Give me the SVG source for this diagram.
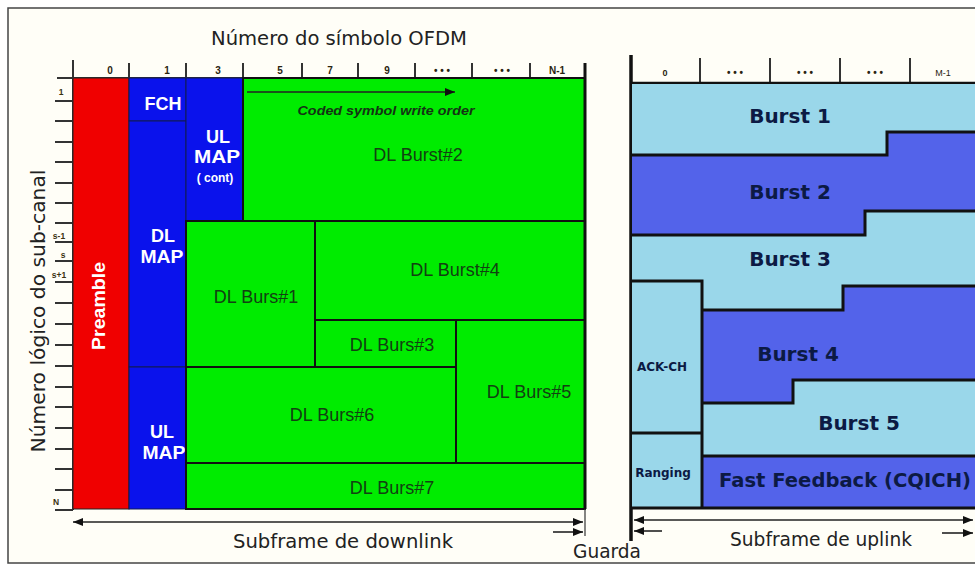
<svg xmlns="http://www.w3.org/2000/svg" width="975" height="566" viewBox="0 0 975 566">
<defs>
<style>
.t{font-family:"DejaVu Sans","Liberation Sans",sans-serif;font-size:19.5px;fill:#222}
.dl{font-family:"Liberation Sans",Arial,sans-serif;font-size:18px;fill:#124012;text-anchor:middle}
.wb{font-family:"Liberation Sans",Arial,sans-serif;font-weight:bold;font-size:18px;fill:#fff;text-anchor:middle}
.ub{font-family:"DejaVu Sans",sans-serif;font-weight:bold;font-size:20px;fill:#0c1a44;text-anchor:middle}
.us{font-family:"DejaVu Sans",sans-serif;font-weight:bold;font-size:12px;fill:#0c1a44;text-anchor:middle}
.hd{font-family:"Liberation Sans",Arial,sans-serif;font-weight:bold;font-size:10px;fill:#2a2410;text-anchor:middle}
.ax{font-family:"Liberation Sans",Arial,sans-serif;font-weight:bold;font-size:8.5px;fill:#3a3210;text-anchor:middle}
.g{fill:#00ec00;stroke:#111;stroke-width:2}
.b{fill:#0a12ec;stroke:#111a55;stroke-width:1}
.lb{fill:#9ad7ea}
.rb{fill:#5363ea}
.edge{fill:none;stroke:#111;stroke-width:3}
.tick{stroke:#333;stroke-width:2;fill:none}
.arr{stroke:#222;stroke-width:1.6;fill:none}
</style>
<marker id="ah" viewBox="0 0 10 8" refX="10" refY="4" markerWidth="11" markerHeight="8" markerUnits="userSpaceOnUse" orient="auto-start-reverse"><path d="M0,0 L10,4 L0,8 z" fill="#111"/></marker>
</defs>
<rect x="0" y="0" width="975" height="566" fill="#fff"/>
<rect x="8" y="8" width="980" height="555" fill="#fffef7" stroke="#444" stroke-width="1.5"/>

<text class="t" x="211" y="45" textLength="256" lengthAdjust="spacingAndGlyphs">Número do símbolo OFDM</text>
<text class="t" transform="translate(45,311) rotate(-90)" text-anchor="middle" textLength="283" lengthAdjust="spacingAndGlyphs">Número lógico do sub-canal</text>

<g id="dl-axes">
<path class="tick" d="M73,60 V510 M57,78 H585 M129,63 V78 M186,63 V78 M243,63 V78 M302,63 V78 M358,63 V78 M415,63 V78 M472,63 V78 M530,63 V78"/>
<path class="tick" d="M55,101H73 M55,121H73 M55,142H73 M55,162H73 M55,183H73 M55,203H73 M55,223H73 M55,242H73 M55,261H73 M55,282H73 M55,303H73 M55,324H73 M55,345H73 M55,366H73 M55,387H73 M55,407H73 M55,428H73 M55,449H73 M55,469H73 M55,490H73 M55,510H73"/>
<text class="hd" x="110" y="74">0</text>
<text class="hd" x="167" y="74">1</text>
<text class="hd" x="218" y="74">3</text>
<text class="hd" x="280" y="74">5</text>
<text class="hd" x="330" y="74">7</text>
<text class="hd" x="387" y="74">9</text>
<text class="hd" x="442" y="74">• • •</text>
<text class="hd" x="502" y="74">• • •</text>
<text class="hd" x="557" y="74">N-1</text>
<text class="ax" x="61" y="95">1</text>
<text class="ax" x="59" y="239">s-1</text>
<text class="ax" x="63" y="258">s</text>
<text class="ax" x="59" y="278">s+1</text>
<text class="ax" x="56" y="505">N</text>
</g>

<g id="preamble">
<rect x="73" y="78" width="56" height="431" fill="#f00000" stroke="#222" stroke-width="1"/>
<text class="wb" transform="translate(105,306) rotate(-90)" textLength="88" lengthAdjust="spacingAndGlyphs">Preamble</text>
</g>
<g id="fch">
<rect class="b" x="129" y="78" width="57" height="43"/>
<text class="wb" x="163" y="110">FCH</text>
</g>
<g id="dl-map">
<rect class="b" x="129" y="121" width="57" height="246"/>
<text class="wb" x="163" y="242">DL</text>
<text class="wb" x="162" y="263" textLength="43" lengthAdjust="spacingAndGlyphs">MAP</text>
</g>
<g id="ul-map">
<rect class="b" x="129" y="367" width="57" height="142"/>
<text class="wb" x="162" y="438">UL</text>
<text class="wb" x="164" y="459" textLength="43" lengthAdjust="spacingAndGlyphs">MAP</text>
</g>
<g id="ul-map-cont">
<rect class="b" x="186" y="78" width="57" height="143"/>
<text class="wb" x="218" y="143">UL</text>
<text class="wb" x="217" y="163" textLength="46" lengthAdjust="spacingAndGlyphs">MAP</text>
<text class="wb" x="215" y="182" style="font-size:12px">( cont)</text>
</g>
<g id="dl-burst2">
<rect class="g" x="243" y="78" width="342" height="143"/>
<text x="386" y="115" text-anchor="middle" style="font-family:'Liberation Sans',Arial,sans-serif;font-size:12px;font-weight:bold;font-style:italic;fill:#143214" textLength="177" lengthAdjust="spacingAndGlyphs">Coded symbol write order</text>
<text class="dl" x="418" y="161">DL Burst#2</text>
</g>
<g id="dl-burst1">
<rect class="g" x="186" y="221" width="129" height="146"/>
<text class="dl" x="256" y="303">DL Burs#1</text>
</g>
<g id="dl-burst4">
<rect class="g" x="315" y="221" width="270" height="99"/>
<text class="dl" x="455" y="276">DL Burst#4</text>
</g>
<g id="dl-burst3">
<rect class="g" x="315" y="320" width="141" height="47"/>
<text class="dl" x="392" y="351">DL Burs#3</text>
</g>
<g id="dl-burst5">
<rect class="g" x="456" y="320" width="129" height="143"/>
<text class="dl" x="529" y="398">DL Burs#5</text>
</g>
<g id="dl-burst6">
<rect class="g" x="186" y="367" width="270" height="96"/>
<text class="dl" x="332" y="421">DL Burs#6</text>
</g>
<g id="dl-burst7">
<rect class="g" x="186" y="463" width="399" height="46"/>
<text class="dl" x="392" y="494">DL Burs#7</text>
</g>
<path d="M585,63 V509" stroke="#111" stroke-width="3"/>
<path d="M585,509 V536" stroke="#333" stroke-width="1.2"/>

<g id="ul-axes">
<path d="M631,55 V541" stroke="#111" stroke-width="3.5"/>
<path class="tick" d="M700,58 V83 M770,58 V83 M840,58 V83 M910,58 V83"/>
<path d="M630,83 H975" stroke="#111" stroke-width="2.5"/>
<text class="hd" x="665" y="76" style="font-size:9px">0</text>
<text class="hd" x="735" y="76">• • •</text>
<text class="hd" x="805" y="76">• • •</text>
<text class="hd" x="875" y="76">• • •</text>
<text class="hd" x="943" y="76" style="font-size:9px;font-weight:normal">M-1</text>
</g>
<g id="burst1">
<polygon class="lb" points="632,84 975,84 975,132 887,132 887,155 632,155"/>
<text class="ub" x="790" y="123">Burst 1</text>
</g>
<g id="burst2">
<polygon class="rb" points="632,155 887,155 887,132 975,132 975,211 865,211 865,235 632,235"/>
<text class="ub" x="790" y="199">Burst 2</text>
</g>
<g id="burst3">
<polygon class="lb" points="632,235 865,235 865,211 975,211 975,286 843,286 843,310 702,310 702,281 632,281"/>
<text class="ub" x="790" y="266">Burst 3</text>
</g>
<g id="ack-ch">
<rect class="lb" x="632" y="281" width="70" height="152"/>
<text class="us" x="662" y="371">ACK-CH</text>
</g>
<g id="ranging">
<rect class="lb" x="632" y="433" width="70" height="75"/>
<text class="us" x="663" y="477">Ranging</text>
</g>
<g id="burst4">
<polygon class="rb" points="702,310 843,310 843,286 975,286 975,380 793,380 793,403 702,403"/>
<text class="ub" x="798" y="361">Burst 4</text>
</g>
<g id="burst5">
<polygon class="lb" points="702,403 793,403 793,380 975,380 975,456 702,456"/>
<text class="ub" x="859" y="430">Burst 5</text>
</g>
<g id="fast-feedback">
<rect class="rb" x="702" y="456" width="273" height="52"/>
<text class="ub" x="845" y="487" textLength="252" lengthAdjust="spacingAndGlyphs">Fast Feedback (CQICH)</text>
</g>
<g id="ul-edges">
<path class="edge" d="M632,155 H887 V132 H975 M632,235 H865 V211 H975 M632,281 H702 V509 M702,310 H843 V286 H975 M702,403 H793 V380 H975 M702,456 H975 M632,433 H702 M630,508 H975"/>
</g>

<g id="connectors">
<line class="arr" x1="247" y1="92" x2="455" y2="92" stroke-width="2" marker-end="url(#ah)"/>
<line class="arr" x1="73" y1="522" x2="583" y2="522" marker-start="url(#ah)" marker-end="url(#ah)"/>
<line class="arr" x1="553" y1="532" x2="583" y2="532" marker-end="url(#ah)"/>
<line class="arr" x1="634" y1="520" x2="973" y2="520" marker-start="url(#ah)" marker-end="url(#ah)"/>
<line class="arr" x1="662" y1="531" x2="634" y2="531" marker-end="url(#ah)"/>
<line class="arr" x1="942" y1="533" x2="973" y2="533" marker-end="url(#ah)"/>
</g>

<text class="t" x="233" y="548" textLength="220" lengthAdjust="spacingAndGlyphs">Subframe de downlink</text>
<text class="t" x="573" y="558" textLength="68" lengthAdjust="spacingAndGlyphs">Guarda</text>
<text class="t" x="730" y="546" textLength="182" lengthAdjust="spacingAndGlyphs">Subframe de uplink</text>
</svg>
